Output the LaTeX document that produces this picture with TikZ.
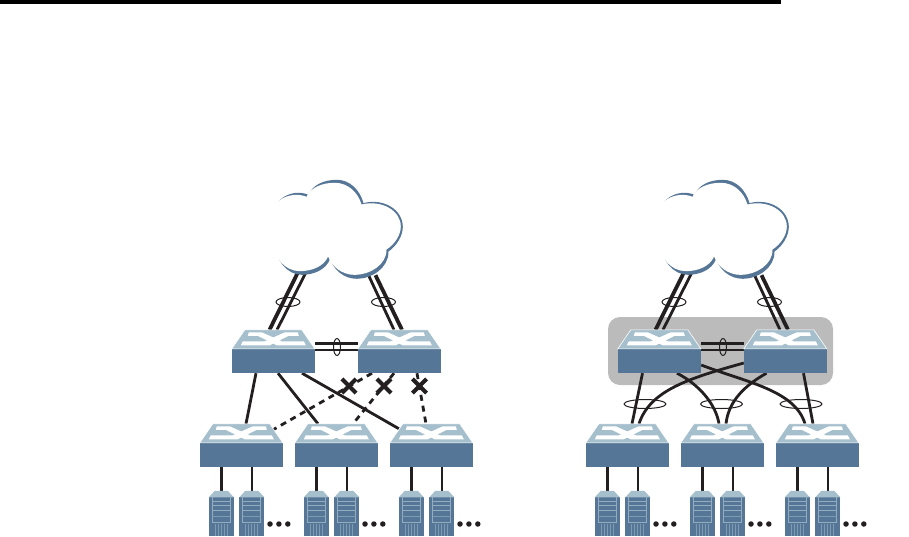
\documentclass[tikz,border=0pt]{standalone}
\usepackage{tikz}
\usetikzlibrary{calc,positioning,shapes.geometric,shapes.misc,backgrounds}

\definecolor{swface}{HTML}{A5BFCD}
\definecolor{swbody}{HTML}{557696}
\definecolor{panelgray}{HTML}{BBBBBB}
\definecolor{linkblack}{HTML}{231F20}

\tikzset{
  switchbox/.style={minimum width=83pt, minimum height=43pt, inner sep=0pt},
  serverbox/.style={minimum width=25pt, minimum height=45pt, inner sep=0pt},
  cloudbox/.style={minimum width=131pt, minimum height=99pt, inner sep=0pt},
  linkring/.style={draw=linkblack, ellipse, line width=1pt, inner sep=0pt, minimum width=24pt, minimum height=9pt},
  widering/.style={linkring, minimum width=42pt},
  tallring/.style={linkring, minimum width=7pt, minimum height=17pt},
  blockmark/.style={cross out, draw=linkblack, line width=4.2pt, inner sep=0pt, minimum size=10pt},
  dotmark/.style={circle, fill=linkblack, inner sep=0pt, minimum size=5.5pt},
  fatlink/.style={draw=linkblack, line width=3.8pt},
  thinlink/.style={draw=linkblack, line width=2.8pt},
  panelbox/.style={fill=panelgray, rounded corners=12pt, minimum width=225pt, minimum height=68pt, inner sep=0pt}
}

\newcommand{\switchat}[2]{
  \node[switchbox] (#1) at (#2) {};
  \begin{scope}[shift={(#1.north west)}]
    \fill[swbody] (0,19) rectangle (83,43);
    \filldraw[fill=swface, draw=white, line width=0.6pt] (0,19) -- (13,0) -- (70,0) -- (83,19) -- cycle;
    \fill[white] (17,2.5) -- (30,2.5) -- (50,11.5) -- (72,11.5) -- (74,15.5) -- (45,15.5) -- (26,6) -- (16,6) -- cycle;
    \fill[white] (66,2.5) -- (53,2.5) -- (33,11.5) -- (11,11.5) -- (9,15.5) -- (38,15.5) -- (57,6) -- (67,6) -- cycle;
  \end{scope}
}
\newcommand{\serverat}[2]{
  \node[serverbox] (#1) at (#2) {};
  \begin{scope}[shift={(#1.north west)}]
    \fill[swbody] (0,6.5) rectangle (25,45);
    \fill[swface] (0,6.5) -- (6,0) -- (19,0) -- (25,6.5) -- cycle;
    \draw[swface!75!swbody, line width=0.7pt] (3.5,6.5) -- (3.5,32) -- (21.5,32) -- (21.5,6.5);
    \draw[swface!75!swbody, line width=1pt] (3.5,11) -- (21.5,11) (3.5,15) -- (21.5,15) (3.5,19.5) -- (21.5,19.5);
    \draw[swface!50!swbody, line width=0.4pt] (3.5,25) -- (21.5,25);
    \foreach \vx in {6,9,12,15,18}
      \draw[swface!50!swbody, line width=0.5pt] (\vx,33) -- (\vx,45);
  \end{scope}
}
\newcommand{\cloudline}{(36.7,15) .. controls (41,5) and (52,0) .. (65,0) .. controls (78,0) and (88,10) .. (91.7,23.3)
  .. controls (112,18) and (131,30) .. (131,47) .. controls (131,56) and (125,66) .. (116.7,71.7)
  .. controls (117,88) and (100,99) .. (85,99) .. controls (72,99) and (62,90) .. (58.3,79.3)
  .. controls (54,90) and (42,95) .. (30,95) .. controls (15,95) and (3,80) .. (3.5,62)
  -- (7.7,55) .. controls (2,50) and (0,45) .. (0,38) .. controls (0,20) and (20,8) .. (36.7,15) -- cycle}
\newcommand{\cloudat}[2]{
  \node[cloudbox] (#1) at (#2) {};
  \begin{scope}[shift={(#1.north west)}]
    \fill[swbody] \cloudline;
    \fill[white, shift={(-2,3)}, yscale=0.93] \cloudline;
  \end{scope}
}

\begin{document}
\begin{tikzpicture}[x=1pt,y=-1pt]

  \useasboundingbox (0,0) rectangle (909,536);
  \fill[black] (0,0) rectangle (781,4);

  % both sides have the same boxes
  \foreach \sd/\dx in {l/0,r/386}{
    \cloudat{cloud\sd}{337.5+\dx,229.5}
    \switchat{top\sd a}{273.5+\dx,351.5}
    \switchat{top\sd b}{399.5+\dx,351.5}
    \foreach \nn/\nx in {a/241.5,b/336.5,c/431.5}{
      \switchat{low\sd\nn}{\nx+\dx,445.5}
      \serverat{srv\sd\nn}{\nx-20+\dx,513.5}
      \serverat{srx\sd\nn}{\nx+10.5+\dx,513.5}
      \node[dotmark] (dot\sd\nn) at (\nx+28.5+\dx,524) {};
      \node[dotmark, right=3pt of dot\sd\nn] (dox\sd\nn) {};
      \node[dotmark, right=3pt of dox\sd\nn] (doy\sd\nn) {};
    }
  }

  \begin{scope}[on background layer]
    \node[panelbox] (panel) at (720.5,351) {};

    \foreach \sd in {l,r}{
      % uplinks
      \draw[fatlink] ($(cloud\sd.south)+(-40,-6)$) -- ($(top\sd a.north)+(-4,0)$);
      \draw[thinlink] ($(cloud\sd.south)+(-32,-6)$) -- ($(top\sd a.north)+(3.5,0)$);
      \draw[thinlink] ($(cloud\sd.south)+(31,-4)$) -- ($(top\sd b.north)+(-5.5,0)$);
      \draw[fatlink] ($(cloud\sd.south)+(38,-4)$) -- ($(top\sd b.north)+(2.5,0)$);
      % link between the two
      \draw[draw=linkblack, line width=3pt] ($(top\sd a.east)+(0,-8.5)$) -- ($(top\sd b.west)+(0,-8.5)$);
      \draw[draw=linkblack, line width=2.2pt] ($(top\sd a.east)+(0,-1.5)$) -- ($(top\sd b.west)+(0,-1.5)$);
      % servers
      \foreach \nn in {a,b,c}{
        \draw[fatlink] (low\sd\nn.south -| srv\sd\nn.north) -- (srv\sd\nn.north);
        \draw[thinlink] (low\sd\nn.south -| srx\sd\nn.north) -- (srx\sd\nn.north);
      }
    }

    % left side
    \draw[thinlink] ($(topla.south)+(-17.5,0)$) -- ($(lowla.north)+(4.5,0)$);
    \draw[thinlink] ($(topla.south)+(4.5,0)$) -- ($(lowlb.north)+(-18.5,0)$);
    \draw[thinlink] ($(topla.south)+(28.5,0)$) -- ($(lowlc.north)+(-32.5,5)$);
    \draw[thinlink, dashed, dash pattern=on 6pt off 5pt] ($(toplb.south)+(-27.5,0)$) -- ($(lowla.north)+(31.5,6)$);
    \draw[thinlink, dashed, dash pattern=on 6pt off 5pt] ($(toplb.south)+(-5.5,0)$) -- ($(lowlb.north)+(16.5,0)$);
    \draw[thinlink, dashed, dash pattern=on 6pt off 5pt] ($(toplb.south)+(17.5,0)$) -- ($(lowlc.north)+(-5.5,0)$);

    % right side
    \draw[thinlink] ($(topra.south)+(-17,0)$) -- ($(lowra.north)+(4.5,0)$);
    \draw[thinlink] ($(toprb.south)+(18,0)$) -- ($(lowrc.north)+(-4.5,0)$);
    \draw[thinlink] ($(toprb.west)+(0,11.5)$) .. controls (690,378) and (650,390) .. ($(lowra.north)+(11.5,0)$);
    \draw[thinlink] ($(topra.east)+(0,13.5)$) .. controls (745,382) and (795,390) .. ($(lowrc.north)+(-12.5,0)$);
    \draw[thinlink] ($(topra.south)+(17.5,0)$) .. controls (700,385) and (716,405) .. ($(lowrb.north)+(-3.5,0)$);
    \draw[thinlink] ($(toprb.south)+(-19,0)$) .. controls (740,388) and (728,405) .. ($(lowrb.north)+(3.5,0)$);
  \end{scope}

  % rings on the links
  \foreach \sd/\dx in {l/0,r/386}{
    \node[linkring] (ringa\sd) at (288+\dx,302) {};
    \node[linkring] (ringb\sd) at (383.5+\dx,302) {};
    \node[tallring] (ringc\sd) at (337+\dx,347) {};
  }
  \node[widering] (ringd) at (645,404) {};
  \node[widering] (ringe) at (721.5,404) {};
  \node[widering] (ringf) at (801,404) {};

  % blocked links
  \node[blockmark] (blocka) at (349,386) {};
  \node[blockmark] (blockb) at (384,386) {};
  \node[blockmark] (blockc) at (419.5,386) {};

\end{tikzpicture}
\end{document}
